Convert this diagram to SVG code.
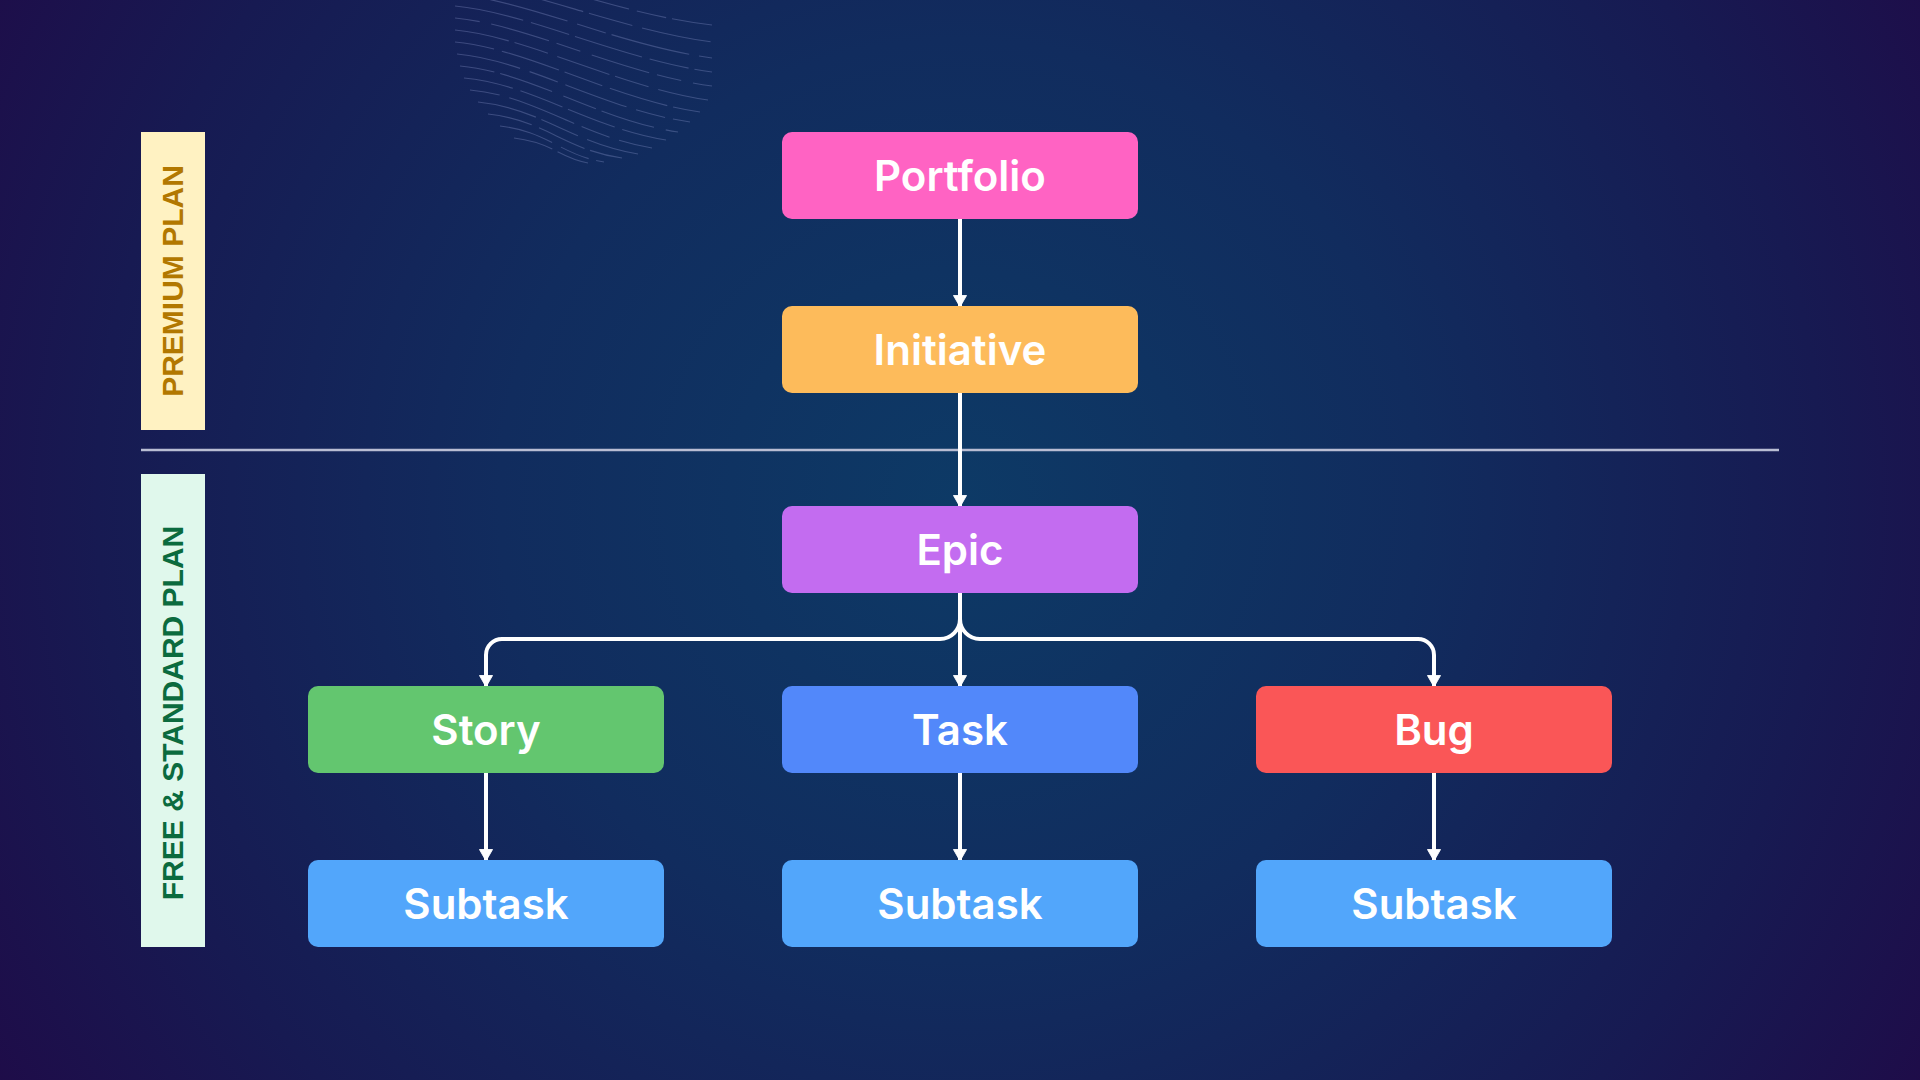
<svg xmlns="http://www.w3.org/2000/svg" width="1920" height="1080" viewBox="0 0 1920 1080">
<defs>
<radialGradient id="bg" cx="960" cy="500" r="1150" gradientUnits="userSpaceOnUse">
<stop offset="0" stop-color="#0d3a66"/>
<stop offset="0.4" stop-color="#112c5e"/>
<stop offset="0.75" stop-color="#171a52"/>
<stop offset="1" stop-color="#1f0b48"/>
</radialGradient>
<marker id="arr" markerUnits="userSpaceOnUse" markerWidth="18" markerHeight="14" refX="12" refY="8" orient="auto" viewBox="0 0 14 16">
<path d="M0,0.5 L13,8 L0,15.5 Z" fill="#ffffff" stroke="#ffffff" stroke-width="1" stroke-linejoin="round"/>
</marker>
<style>
.node rect{rx:10px;ry:10px}
.node text{font-family:Inter,"Liberation Sans",sans-serif;font-weight:600;font-size:42px;fill:#ffffff;text-anchor:middle}
.conn{fill:none;stroke:#ffffff;stroke-width:4;marker-end:url(#arr)}
.band text{font-family:"Liberation Sans",Arial,sans-serif;font-weight:700;font-size:30px;text-anchor:middle}
.wave{fill:none;stroke:#9aa6dc;stroke-opacity:0.3;stroke-width:1.1}
</style>
</defs>
<rect width="1920" height="1080" fill="url(#bg)"/>
<g id="decoration">
<path class="wave" stroke-dasharray="60 8 30 6" d="M470,-30 C530,-25 622,15 712,25"/>
<path class="wave" stroke-dasharray="45 10 70 6" d="M462,-18 C525,-12 622,30 712,42"/>
<path class="wave" stroke-dasharray="30 6 80 10" d="M455,-6 C525,0 622,46 712,58"/>
<path class="wave" stroke-dasharray="70 8 40 6" d="M455,6 C525,12 622,60 712,72"/>
<path class="wave" stroke-dasharray="25 12 60 8" d="M455,18 C525,24 622,74 712,86"/>
<path class="wave" stroke-dasharray="55 6 35 10" d="M455,30 C525,36 622,88 708,100"/>
<path class="wave" stroke-dasharray="40 8 60 6" d="M455,42 C525,48 615,100 700,112"/>
<path class="wave" stroke-dasharray="65 10 30 8" d="M457,54 C527,60 605,110 690,122"/>
<path class="wave" stroke-dasharray="35 6 55 12" d="M460,66 C530,72 598,120 678,132"/>
<path class="wave" stroke-dasharray="50 8 45 6" d="M464,78 C532,84 590,128 666,140"/>
<path class="wave" stroke-dasharray="30 10 70 8" d="M470,90 C536,96 580,136 652,148"/>
<path class="wave" stroke-dasharray="60 6 40 10" d="M478,102 C540,108 572,143 638,154"/>
<path class="wave" stroke-dasharray="45 8 50 6" d="M488,114 C545,120 565,150 622,158"/>
<path class="wave" stroke-dasharray="55 10 30 8" d="M500,126 C550,132 560,155 604,162"/>
<path class="wave" stroke-dasharray="40 6 40 10" d="M514,138 C555,143 558,158 588,163"/>
</g>
<g id="plan-bands" class="band">
<g id="premium-plan">
<rect x="141" y="132" width="64" height="298" fill="#fff2c2"/>
<text transform="translate(183,281) rotate(-90)" fill="#b27800">PREMIUM PLAN</text>
</g>
<g id="free-standard-plan">
<rect x="141" y="474" width="64" height="473" fill="#e0f8ec"/>
<text transform="translate(183,713) rotate(-90)" fill="#0b6b3e">FREE &amp; STANDARD PLAN</text>
</g>
</g>
<line id="divider" x1="141" y1="450" x2="1779" y2="450" stroke="#b9bdd3" stroke-width="2.5"/>
<g id="connectors">
<path class="conn" d="M960,219 V306"/>
<path class="conn" d="M960,393 V506"/>
<path class="conn" d="M960,593 V686"/>
<path class="conn" d="M960,593 V619 A20,20 0 0 1 940,639 H502 A16,16 0 0 0 486,655 V686"/>
<path class="conn" d="M960,593 V619 A20,20 0 0 0 980,639 H1418 A16,16 0 0 1 1434,655 V686"/>
<path class="conn" d="M486,773 V860"/>
<path class="conn" d="M960,773 V860"/>
<path class="conn" d="M1434,773 V860"/>
</g>
<g id="portfolio" class="node"><rect x="782" y="132" width="356" height="87" fill="#ff63c3"/><text x="960" y="191">Portfolio</text></g>
<g id="initiative" class="node"><rect x="782" y="306" width="356" height="87" fill="#fdbb5b"/><text x="960" y="365">Initiative</text></g>
<g id="epic" class="node"><rect x="782" y="506" width="356" height="87" fill="#c36cf0"/><text x="960" y="565">Epic</text></g>
<g id="story" class="node"><rect x="308" y="686" width="356" height="87" fill="#63c66f"/><text x="486" y="745">Story</text></g>
<g id="task" class="node"><rect x="782" y="686" width="356" height="87" fill="#5288fa"/><text x="960" y="745">Task</text></g>
<g id="bug" class="node"><rect x="1256" y="686" width="356" height="87" fill="#fa5657"/><text x="1434" y="745">Bug</text></g>
<g id="subtask-story" class="node"><rect x="308" y="860" width="356" height="87" fill="#52a6fb"/><text x="486" y="919">Subtask</text></g>
<g id="subtask-task" class="node"><rect x="782" y="860" width="356" height="87" fill="#52a6fb"/><text x="960" y="919">Subtask</text></g>
<g id="subtask-bug" class="node"><rect x="1256" y="860" width="356" height="87" fill="#52a6fb"/><text x="1434" y="919">Subtask</text></g>
</svg>
